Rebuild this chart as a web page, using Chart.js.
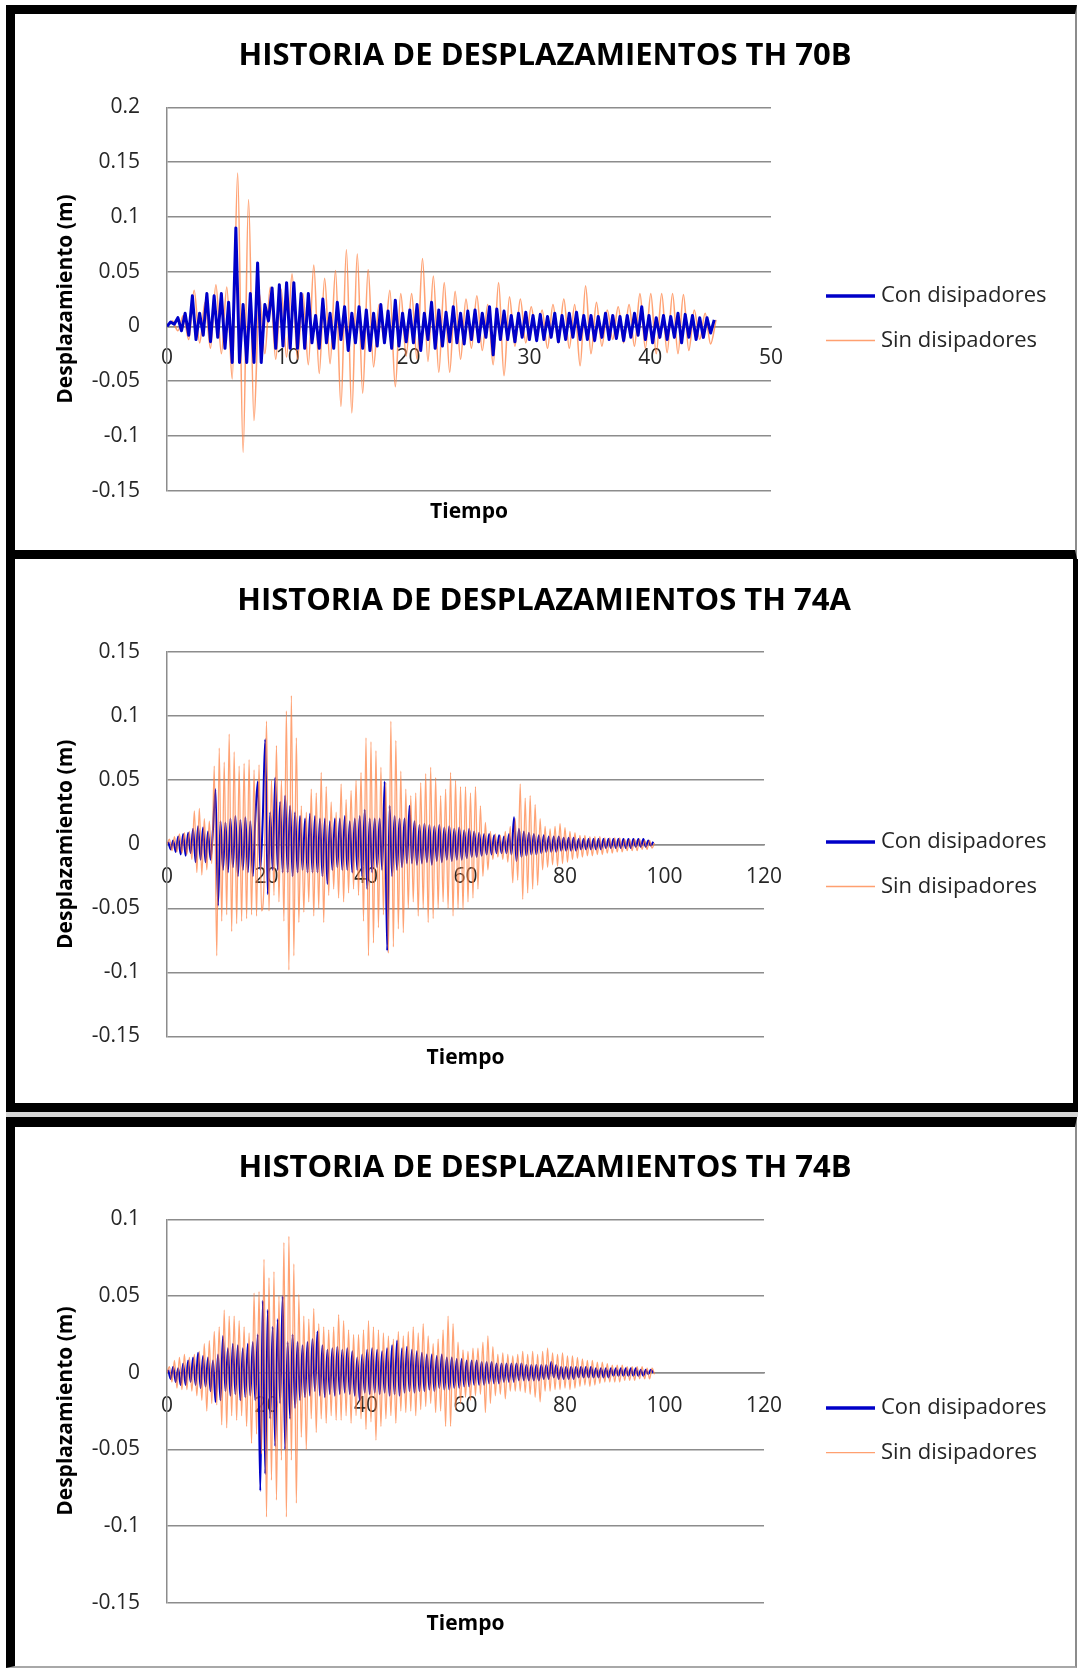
<!DOCTYPE html>
<html lang="es">
<head>
<meta charset="utf-8">
<title>Historia de desplazamientos</title>
<script src="https://cdn.jsdelivr.net/npm/chart.js@4.4.1/dist/chart.umd.min.js"></script>
<style>
  body { margin:0; background:#fff; }
  #hoja { position:relative; width:1078px; height:1668px; overflow:hidden; background:#fff; }
  .marco { position:absolute; box-sizing:border-box; background:#fff; }
  canvas { position:absolute; }
</style>
</head>
<body>
<div id="hoja">
  <div class="marco" style="left:6px;top:5px;width:1071px;height:554px;border-left:9px solid #000;border-top:9px solid #000;border-bottom:9px solid #000;border-right:2px solid #8c8c8c;"></div>
  <div class="marco" style="left:6px;top:559px;width:1072px;height:553px;border-left:9px solid #000;border-bottom:9px solid #000;border-right:5px solid #000;"></div>
  <div style="position:absolute;left:6px;top:1112px;width:1072px;height:5px;background:#d6d6d6;"></div>
  <div class="marco" style="left:6px;top:1117px;width:1071px;height:551px;border-left:9px solid #000;border-top:10px solid #000;border-bottom:2px solid #a8a8a8;border-right:2px solid #8c8c8c;"></div>
  <canvas id="g70B" width="1060" height="536" style="left:15px;top:14px;"></canvas>
  <canvas id="g74A" width="1058" height="544" style="left:15px;top:559px;"></canvas>
  <canvas id="g74B" width="1060" height="539" style="left:15px;top:1127px;"></canvas>
</div>
<script>
// etiquetas
const nombreCon = "Con disipadores";
const nombreSin = "Sin disipadores";

// TH 70B: paso de tiempo de cada serie (s)
const dtCon70B = 0.3;
const dtSin70B = 0.45;
const con70B = [
  0, 0.004, 0.002, 0.008, -0.004, 0.012, -0.008, 0.028, -0.012, 0.012,
  -0.008, 0.030, -0.014, 0.028, -0.010, 0.030, -0.020, 0.022, -0.033, 0.090,
  -0.033, 0.020, -0.033, 0.030, -0.033, 0.058, -0.033, 0.020, 0.005, 0.035,
  -0.020, 0.038, -0.018, 0.040, -0.020, 0.040, -0.020, 0.030, -0.020, 0.030,
  -0.015, 0.010, -0.020, 0.025, -0.015, 0.012, -0.020, 0.022, -0.012, 0.018,
  -0.022, 0.012, -0.015, 0.018, -0.020, 0.015, -0.022, 0.012, -0.018, 0.020,
  -0.015, 0.014, -0.020, 0.024, -0.018, 0.012, -0.014, 0.015, -0.015, 0.020,
  -0.022, 0.012, -0.012, 0.022, -0.020, 0.015, -0.018, 0.013, -0.014, 0.018,
  -0.015, 0.012, -0.016, 0.014, -0.012, 0.015, -0.014, 0.012, -0.010, 0.018,
  -0.026, 0.016, -0.012, 0.014, -0.012, 0.010, -0.014, 0.012, -0.010, 0.013,
  -0.012, 0.010, -0.013, 0.011, -0.012, 0.009, -0.010, 0.012, -0.014, 0.010,
  -0.012, 0.012, -0.010, 0.013, -0.012, 0.010, -0.012, 0.010, -0.013, 0.009,
  -0.010, 0.012, -0.012, 0.010, -0.011, 0.009, -0.013, 0.010, -0.010, 0.012,
  -0.008, 0.018, -0.012, 0.010, -0.015, 0.008, -0.010, 0.010, -0.012, 0.009,
  -0.010, 0.012, -0.015, 0.011, -0.010, 0.010, -0.012, 0.008, -0.010, 0.008,
  -0.006, 0.006
];
const sin70B = [
  0, 0.005, -0.004, 0.010, -0.012, 0.033, -0.015, 0.022, -0.020, 0.038,
  -0.025, 0.036, -0.048, 0.140, -0.115, 0.116, -0.086, 0.030, -0.025, 0.036,
  -0.030, 0.034, -0.028, 0.048, -0.030, 0.030, -0.035, 0.056, -0.043, 0.044,
  -0.034, 0.051, -0.073, 0.070, -0.079, 0.066, -0.061, 0.052, -0.037, 0.020,
  -0.015, 0.033, -0.055, 0.030, -0.027, 0.030, -0.030, 0.062, -0.032, 0.046,
  -0.042, 0.040, -0.042, 0.032, -0.030, 0.025, -0.020, 0.028, -0.022, 0.020,
  -0.035, 0.040, -0.045, 0.027, -0.018, 0.025, -0.015, 0.018, -0.012, 0.015,
  -0.020, 0.020, -0.015, 0.025, -0.020, 0.020, -0.036, 0.037, -0.025, 0.022,
  -0.018, 0.015, -0.012, 0.018, -0.015, 0.020, -0.018, 0.030, -0.020, 0.030,
  -0.025, 0.030, -0.024, 0.030, -0.025, 0.029, -0.022, 0.015, -0.012, 0.012,
  -0.016, 0.006
];
const xTicks70B = [0, 10, 20, 30, 40, 50];
const yTicks70B = [-0.15, -0.1, -0.05, 0, 0.05, 0.1, 0.15, 0.2];
const yLabels70B = ["-0.15", "-0.1", "-0.05", "0", "0.05", "0.1", "0.15", "0.2"];

// TH 74A
const dtCon74A = 0.5, t0Con74A = 0.25;
const dtSin74A = 0.5;
const con74A = [
  0.002, -0.004, 0.003, -0.006, 0.006, -0.008, 0.008, -0.009, 0.009, -0.007,
  0.012, -0.014, 0.014, -0.012, 0.013, -0.014, 0.010, -0.012, 0.012, 0.043,
  -0.048, 0.018, -0.020, 0.017, -0.022, 0.020, -0.018, 0.022, -0.025, 0.019,
  -0.020, 0.021, -0.022, 0.018, -0.025, 0.020, 0.049, -0.020, 0.020, 0.082,
  -0.039, 0.025, -0.020, 0.052, -0.020, 0.033, -0.022, 0.038, -0.022, 0.030,
  -0.025, 0.025, -0.022, 0.022, -0.020, 0.020, -0.022, 0.024, -0.022, 0.022,
  -0.022, 0.020, -0.025, 0.020, -0.031, 0.018, -0.020, 0.020, -0.018, 0.020,
  -0.020, 0.022, -0.020, 0.018, -0.022, 0.020, -0.020, 0.022, -0.025, 0.027,
  -0.035, 0.020, -0.022, 0.020, -0.018, 0.020, -0.020, 0.049, -0.083, 0.030,
  -0.025, 0.022, -0.020, 0.020, -0.018, 0.020, -0.015, 0.030, -0.015, 0.018,
  -0.016, 0.015, -0.015, 0.016, -0.014, 0.015, -0.016, 0.014, -0.013, 0.015,
  -0.014, 0.013, -0.012, 0.014, -0.013, 0.012, -0.012, 0.013, -0.012, 0.011,
  -0.011, 0.012, -0.010, 0.010, -0.010, 0.009, -0.009, 0.008, -0.008, 0.008,
  -0.008, 0.007, -0.007, 0.007, -0.007, 0.006, -0.007, 0.008, -0.008, 0.021,
  -0.013, 0.012, -0.010, 0.010, -0.009, 0.009, -0.008, 0.008, -0.008, 0.007,
  -0.007, 0.007, -0.006, 0.006, -0.006, 0.006, -0.006, 0.006, -0.005, 0.005,
  -0.005, 0.005, -0.005, 0.005, -0.005, 0.004, -0.004, 0.004, -0.004, 0.004,
  -0.004, 0.004, -0.004, 0.004, -0.004, 0.004, -0.003, 0.004, -0.003, 0.004,
  -0.003, 0.004, -0.003, 0.004, -0.003, 0.004, -0.003, 0.004, -0.002, 0.004,
  -0.002, 0.004, -0.002, 0.003, -0.001, 0.002
];
const sin74A = [
  0, 0.004, -0.005, 0.006, -0.006, 0.008, -0.007, 0.009, -0.008, 0.010,
  -0.012, 0.026, -0.022, 0.028, -0.024, 0.020, -0.020, 0.018, -0.015, 0.061,
  -0.087, 0.075, -0.060, 0.064, -0.055, 0.086, -0.068, 0.072, -0.062, 0.061,
  -0.060, 0.063, -0.058, 0.066, -0.055, 0.058, -0.056, 0.062, -0.052, -0.030,
  0.096, -0.052, 0.050, -0.040, 0.077, -0.045, 0.050, -0.060, 0.104, -0.098,
  0.116, -0.087, 0.083, -0.061, 0.030, -0.053, 0.025, -0.045, 0.043, -0.056,
  0.040, -0.050, 0.056, -0.061, 0.045, -0.040, 0.033, -0.035, 0.025, -0.042,
  0.047, -0.045, 0.035, -0.038, 0.042, -0.035, 0.050, -0.040, 0.056, -0.060,
  0.083, -0.087, 0.080, -0.077, 0.073, -0.065, 0.060, -0.055, 0.048, -0.085,
  0.096, -0.080, 0.081, -0.066, 0.057, -0.069, 0.043, -0.050, 0.038, -0.045,
  0.040, -0.056, 0.048, -0.050, 0.055, -0.061, 0.060, -0.058, 0.052, -0.050,
  0.038, -0.045, 0.043, -0.050, 0.056, -0.056, 0.050, -0.050, 0.045, -0.051,
  0.045, -0.045, 0.040, -0.042, 0.045, -0.035, 0.030, -0.025, 0.017, -0.020,
  0.010, -0.012, 0.008, -0.010, 0.007, -0.012, 0.010, -0.014, 0.014, -0.030,
  0.020, -0.028, 0.047, -0.043, 0.036, -0.038, 0.038, -0.035, 0.031, -0.032,
  0.020, -0.020, 0.014, -0.018, 0.012, -0.016, 0.014, -0.017, 0.016, -0.015,
  0.013, -0.014, 0.010, -0.012, 0.009, -0.011, 0.007, -0.010, 0.007, -0.009,
  0.006, -0.009, 0.006, -0.008, 0.006, -0.008, 0.005, -0.007, 0.005, -0.007,
  0.005, -0.006, 0.005, -0.006, 0.004, -0.005, 0.004, -0.005, 0.004, -0.005,
  0.004, -0.004, 0.003, -0.004, 0.003, -0.003, 0.001
];
const xTicks74A = [0, 20, 40, 60, 80, 100, 120];
const yTicks74A = [-0.15, -0.1, -0.05, 0, 0.05, 0.1, 0.15];
const yLabels74A = ["-0.15", "-0.1", "-0.05", "0", "0.05", "0.1", "0.15"];

// TH 74B
const dtCon74B = 0.5, t0Con74B = 0.25;
const dtSin74B = 0.5;
const con74B = [
  0.002, -0.004, 0.004, -0.006, 0.003, -0.008, 0.006, -0.008, 0.008, -0.006,
  0.010, -0.008, 0.013, -0.010, 0.011, -0.009, 0.010, -0.012, 0.008, -0.019,
  0.012, -0.018, 0.024, -0.012, 0.016, -0.015, 0.019, -0.014, 0.018, -0.018,
  0.016, -0.016, 0.019, -0.015, 0.020, -0.018, 0.025, -0.077, 0.047, -0.066,
  0.041, -0.030, 0.030, -0.048, 0.035, -0.020, 0.050, -0.050, 0.020, -0.030,
  0.025, -0.023, 0.020, -0.018, 0.018, -0.016, 0.020, -0.015, 0.022, -0.012,
  0.027, -0.015, 0.018, -0.016, 0.015, -0.014, 0.016, -0.015, 0.017, -0.014,
  0.015, -0.013, 0.016, -0.014, 0.014, -0.015, 0.010, -0.018, 0.012, -0.013,
  0.015, -0.014, 0.016, -0.013, 0.015, -0.014, 0.014, -0.013, 0.016, -0.015,
  0.018, -0.014, 0.021, -0.015, 0.016, -0.013, 0.017, -0.012, 0.015, -0.013,
  0.014, -0.012, 0.013, -0.012, 0.012, -0.011, 0.012, -0.012, 0.011, -0.010,
  0.012, -0.011, 0.010, -0.011, 0.010, -0.010, 0.009, -0.010, 0.009, -0.009,
  0.008, -0.009, 0.008, -0.008, 0.008, -0.008, 0.007, -0.008, 0.007, -0.007,
  0.007, -0.007, 0.006, -0.007, 0.006, -0.006, 0.006, -0.006, 0.006, -0.006,
  0.006, -0.005, 0.006, -0.005, 0.005, -0.005, 0.005, -0.005, 0.005, -0.005,
  0.005, -0.004, 0.005, -0.004, 0.007, -0.003, 0.005, -0.004, 0.004, -0.004,
  0.004, -0.004, 0.004, -0.004, 0.004, -0.003, 0.004, -0.003, 0.004, -0.003,
  0.004, -0.003, 0.003, -0.003, 0.003, -0.003, 0.003, -0.003, 0.003, -0.002,
  0.003, -0.002, 0.003, -0.002, 0.003, -0.002, 0.003, -0.002, 0.003, -0.002,
  0.002, -0.002, 0.002, -0.001, 0.002, 0.000
];
const sin74B = [
  0, 0.004, -0.006, 0.008, -0.010, 0.010, -0.011, 0.012, -0.011, 0.010,
  -0.012, 0.012, -0.015, 0.014, -0.018, 0.019, -0.025, 0.021, -0.020, 0.027,
  -0.021, 0.030, -0.034, 0.041, -0.036, 0.037, -0.028, 0.037, -0.031, 0.034,
  -0.028, 0.030, -0.035, 0.026, -0.046, 0.052, -0.040, 0.053, -0.053, 0.074,
  -0.094, 0.062, -0.070, 0.066, -0.083, 0.050, -0.057, 0.085, -0.094, 0.089,
  -0.057, 0.071, -0.085, 0.051, -0.042, 0.037, -0.050, 0.035, -0.030, 0.042,
  -0.039, 0.032, -0.030, 0.030, -0.033, 0.028, -0.028, 0.030, -0.031, 0.038,
  -0.031, 0.034, -0.028, 0.028, -0.033, 0.025, -0.028, 0.025, -0.030, 0.028,
  -0.037, 0.034, -0.032, 0.030, -0.044, 0.028, -0.035, 0.026, -0.030, 0.024,
  -0.028, 0.022, -0.033, 0.027, -0.025, 0.024, -0.026, 0.027, -0.025, 0.030,
  -0.028, 0.026, -0.024, 0.032, -0.022, 0.024, -0.020, 0.019, -0.026, 0.022,
  -0.025, 0.028, -0.035, 0.037, -0.035, 0.032, -0.024, 0.020, -0.020, 0.015,
  -0.016, 0.014, -0.018, 0.016, -0.015, 0.016, -0.014, 0.020, -0.026, 0.024,
  -0.020, 0.017, -0.015, 0.012, -0.014, 0.013, -0.017, 0.012, -0.012, 0.011,
  -0.012, 0.012, -0.012, 0.014, -0.013, 0.012, -0.014, 0.014, -0.016, 0.012,
  -0.019, 0.014, -0.012, 0.016, -0.012, 0.013, -0.011, 0.012, -0.011, 0.013,
  -0.010, 0.011, -0.011, 0.011, -0.010, 0.010, -0.009, 0.009, -0.008, 0.008,
  -0.009, 0.008, -0.008, 0.007, -0.007, 0.007, -0.006, 0.006, -0.006, 0.005,
  -0.006, 0.005, -0.006, 0.005, -0.005, 0.004, -0.005, 0.004, -0.005, 0.004,
  -0.004, 0.004, -0.004, 0.003, -0.004, 0.003, -0.001
];
const xTicks74B = [0, 20, 40, 60, 80, 100, 120];
const yTicks74B = [-0.15, -0.1, -0.05, 0, 0.05, 0.1];
const yLabels74B = ["-0.15", "-0.1", "-0.05", "0", "0.05", "0.1"];

Chart.defaults.font.family = "'Open Sans', sans-serif";
Chart.defaults.animation = false;

const colorCon = "#0000c8";
const colorSin = "rgba(255,128,64,0.72)";
const gris = "#8c8c8c";

// leyenda a la derecha, una linea corta y el nombre de la serie
const leyendaDerecha = {
  id: "leyendaDerecha",
  afterDraw(chart, args, opts) {
    let ctx = chart.ctx;
    ctx.save();
    chart.data.datasets.forEach(function(ds, i){
      let y = opts.filas[i];
      ctx.beginPath();
      ctx.strokeStyle = ds.colorLeyenda;
      ctx.lineWidth = ds.anchoLeyenda;
      ctx.moveTo(opts.x, y);
      ctx.lineTo(opts.x + 49, y);
      ctx.stroke();
      ctx.fillStyle = "#262626";
      ctx.font = "22px 'Open Sans'";
      ctx.textBaseline = "middle";
      ctx.textAlign = "left";
      ctx.fillText(ds.label, opts.x + 55, y);
    });
    ctx.restore();
  }
};

function puntos(valores, dt, t0){
  let pts = [];
  for(let i=0; i<valores.length; i++){
    pts.push({x: t0 + i*dt, y: valores[i]});
  }
  return pts;
}

function crearGrafico(idCanvas, p){
  let canvas = document.getElementById(idCanvas);
  let H = canvas.height, W = canvas.width;
  return new Chart(canvas, {
    type: "line",
    data: {
      datasets: [
        {
          label: nombreCon,
          data: puntos(p.con, p.dtCon, p.t0Con),
          borderColor: colorCon,
          borderWidth: p.anchoCon,
          borderJoinStyle: "round",
          pointRadius: 0,
          tension: 0,
          cubicInterpolationMode: p.conSuave ? "monotone" : "default",
          order: p.sinArriba ? 2 : 1,
          colorLeyenda: colorCon,
          anchoLeyenda: 3.5
        },
        {
          label: nombreSin,
          data: puntos(p.sin, p.dtSin, 0),
          borderColor: colorSin,
          borderWidth: p.anchoSin,
          pointRadius: 0,
          cubicInterpolationMode: "monotone",
          order: p.sinArriba ? 1 : 2,
          colorLeyenda: "rgba(255,128,64,0.75)",
          anchoLeyenda: 1.3
        }
      ]
    },
    options: {
      responsive: false,
      animation: false,
      events: [],
      layout: { padding: 0 },
      plugins: {
        legend: { display: false },
        tooltip: { enabled: false },
        title: {
          display: true,
          text: p.titulo,
          color: "#000",
          font: { size: 31, weight: "bold", lineHeight: 1.2 },
          padding: { top: p.tituloY - 18.6, bottom: p.plotTop - p.tituloY - 18.6 }
        },
        leyendaDerecha: { x: 811, filas: p.filas }
      },
      scales: {
        x: {
          type: "linear",
          position: { y: 0 },
          min: 0,
          max: p.xTicks[p.xTicks.length - 1],
          afterBuildTicks: s => { s.ticks = p.xTicks.map(v => ({ value: v })); },
          ticks: { color: "#262626", font: { size: 21 }, padding: p.padX, maxRotation: 0, autoSkip: false },
          grid: { display: false, drawTicks: false },
          border: { display: true, color: gris, width: 1.5 }
        },
        x2: {
          type: "linear",
          position: "bottom",
          min: 0,
          max: p.xTicks[p.xTicks.length - 1],
          ticks: { display: false },
          grid: { display: false, drawTicks: false },
          border: { display: false },
          title: {
            display: true, text: "Tiempo", color: "#000",
            font: { size: 21, weight: "bold", lineHeight: 1.2 },
            padding: { top: 0, bottom: H - p.tiempoY - 12.6 }
          },
          afterFit: s => { s.height = H - p.plotBottom; }
        },
        y: {
          type: "linear",
          position: "left",
          min: p.yTicks[0],
          max: p.yTicks[p.yTicks.length - 1],
          afterBuildTicks: s => { s.ticks = p.yTicks.map(v => ({ value: v })); },
          afterFit: s => { s.width = 152; },
          ticks: {
            color: "#262626", font: { size: 21 }, padding: 27, autoSkip: false,
            callback: (v, i) => p.yLabels[i]
          },
          grid: { color: gris, lineWidth: 1.5, drawTicks: false },
          border: { display: true, color: gris, width: 1.5 },
          title: {
            display: true, text: "Desplazamiento (m)", color: "#000",
            font: { size: 21, weight: "bold", lineHeight: 1.2 },
            padding: { top: 38.4, bottom: 0 }
          }
        },
        // eje vacio a la derecha: reserva el hueco de la leyenda
        yLeyenda: {
          type: "linear",
          position: "right",
          min: 0,
          max: 1,
          ticks: { display: false },
          grid: { display: false, drawTicks: false },
          border: { display: false },
          afterFit: s => { s.width = W - p.plotRight; }
        }
      }
    },
    plugins: [leyendaDerecha]
  });
}

crearGrafico("g70B", {
  titulo: "HISTORIA DE DESPLAZAMIENTOS TH 70B",
  con: con70B, dtCon: dtCon70B, t0Con: 0, anchoCon: 3, conSuave: false,
  sin: sin70B, dtSin: dtSin70B, anchoSin: 1.6, sinArriba: false,
  xTicks: xTicks70B, yTicks: yTicks70B, yLabels: yLabels70B,
  tituloY: 42, plotTop: 93.5, plotBottom: 476.6, plotRight: 756, tiempoY: 498,
  padX: 19.4, filas: [282, 326.5]
});

crearGrafico("g74A", {
  titulo: "HISTORIA DE DESPLAZAMIENTOS TH 74A",
  con: con74A, dtCon: dtCon74A, t0Con: t0Con74A, anchoCon: 2, conSuave: true,
  sin: sin74A, dtSin: dtSin74A, anchoSin: 1.3, sinArriba: true,
  xTicks: xTicks74A, yTicks: yTicks74A, yLabels: yLabels74A,
  tituloY: 42, plotTop: 93, plotBottom: 477.5, plotRight: 749, tiempoY: 499,
  padX: 20.4, filas: [283, 327.5]
});

crearGrafico("g74B", {
  titulo: "HISTORIA DE DESPLAZAMIENTOS TH 74B",
  con: con74B, dtCon: dtCon74B, t0Con: t0Con74B, anchoCon: 2, conSuave: true,
  sin: sin74B, dtSin: dtSin74B, anchoSin: 1.3, sinArriba: true,
  xTicks: xTicks74B, yTicks: yTicks74B, yLabels: yLabels74B,
  tituloY: 41.5, plotTop: 92.5, plotBottom: 475.7, plotRight: 749, tiempoY: 497,
  padX: 20.4, filas: [281, 325.6]
});
</script>
</body>
</html>
